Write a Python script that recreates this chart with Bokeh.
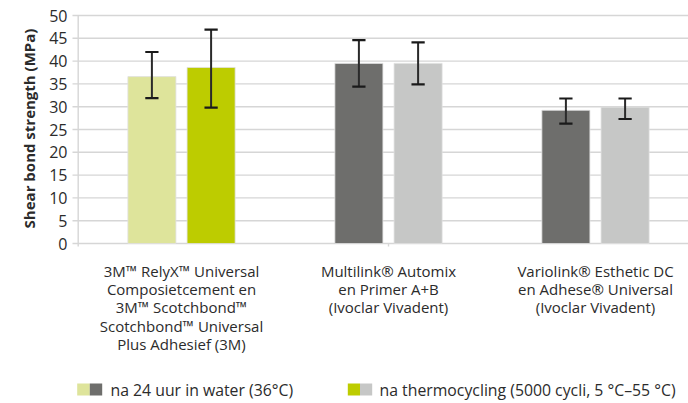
import math
from bokeh.plotting import figure
from bokeh.models import ColumnDataSource, Range1d
from bokeh.core.properties import value
from bokeh.embed import file_html
from bokeh.resources import INLINE

# ---- data ----
categories = [
    "3M\u2122 RelyX\u2122 Universal\nComposietcement en\n3M\u2122 Scotchbond\u2122\nScotchbond\u2122 Universal\nPlus Adhesief (3M)",
    "Multilink\u00ae Automix\nen Primer A+B\n(Ivoclar Vivadent)",
    "Variolink\u00ae Esthetic DC\nen Adhese\u00ae Universal\n(Ivoclar Vivadent)",
]
water = [36.6, 39.5, 29.2]
water_lo = [31.9, 34.4, 26.3]
water_hi = [42.0, 44.6, 31.8]
thermo = [38.6, 39.5, 29.9]
thermo_lo = [29.8, 34.9, 27.3]
thermo_hi = [46.9, 44.1, 31.8]
water_colors = ["#dee49b", "#6e6e6c", "#6e6e6c"]
thermo_colors = ["#bdcc00", "#c6c7c6", "#c6c7c6"]
legend_labels = ["na 24 uur in water (36\u00b0C)",
                 "na thermocycling (5000 cycli, 5 \u00b0C\u201355 \u00b0C)"]
y_ticks = [0, 5, 10, 15, 20, 25, 30, 35, 40, 45, 50]
y_label = "Shear bond strength (MPa)"

# ---- layout helpers (page pixels -> data units) ----
FONT = "Open Sans"
TXT = "#2b2b2b"
GRID = "#d6d6d6"
UNIT_X = 207.0           # px per category
ORIG_X = 77.5            # page x of category origin
ORIG_Y = 243.0           # page y of value 0
UNIT_Y = 228.0 / 50.0    # px per MPa

def px(x):
    return (x - ORIG_X) / UNIT_X

def py(y):
    return (ORIG_Y - y) / UNIT_Y

W, H = 688, 403
p = figure(width=W, height=H, output_backend="svg", toolbar_location=None,
           x_range=Range1d(px(0), px(W)), y_range=Range1d(py(H), py(0)),
           x_axis_location=None, y_axis_location=None,
           min_border_left=0, min_border_right=0, min_border_top=0, min_border_bottom=0)
p.outline_line_color = None
p.background_fill_color = "white"
p.xgrid.visible = False
p.ygrid.visible = False

# gridlines (with tick stubs to the left of the axis)
p.segment(x0=[px(72)] * len(y_ticks), x1=[px(W)] * len(y_ticks), y0=y_ticks, y1=y_ticks,
          line_color=GRID, line_width=1.4)
# vertical axis line and small category tick
p.segment(x0=[px(77.7), px(388)], x1=[px(77.7), px(388)], y0=[py(246), 0], y1=[y_ticks[-1], py(246)],
          line_color=GRID, line_width=1.4)
# tick labels
p.text(x=[px(67)] * len(y_ticks), y=y_ticks, text=[str(t) for t in y_ticks],
       text_align="right", text_baseline="middle", text_font=value(FONT),
       text_font_size="16px", text_color=TXT)
# axis title
p.text(x=[px(28)], y=[py(128)], text=[y_label], angle=math.pi / 2,
       text_align="center", text_baseline="middle", text_font=value(FONT),
       text_font_style="bold", text_font_size="15px", text_color=TXT)

# bars and error bars
xc = [i + 0.5 for i in range(len(categories))]
off = 0.143
bw = 0.232
cap = 0.032
src_w = ColumnDataSource(dict(x=[c - off for c in xc], top=water, lo=water_lo, hi=water_hi, color=water_colors))
src_t = ColumnDataSource(dict(x=[c + off for c in xc], top=thermo, lo=thermo_lo, hi=thermo_hi, color=thermo_colors))
for src in (src_w, src_t):
    p.vbar(x="x", top="top", bottom=0, width=bw, source=src, fill_color="color",
           line_color="#e0e0e0", line_width=0.8)
    p.segment(x0="x", x1="x", y0="lo", y1="hi", source=src, line_color="#2a2a2a", line_width=2)
for xs, los, his in ((src_w.data["x"], water_lo, water_hi), (src_t.data["x"], thermo_lo, thermo_hi)):
    p.segment(x0=[x - cap for x in xs], x1=[x + cap for x in xs], y0=his, y1=his,
              line_color="#1a1a1a", line_width=2.2)
    p.segment(x0=[x - cap for x in xs], x1=[x + cap for x in xs], y0=los, y1=los,
              line_color="#1a1a1a", line_width=2.2)

# category labels
lx, ly, lt = [], [], []
for i, cat in enumerate(categories):
    for j, line in enumerate(cat.split("\n")):
        lx.append(xc[i])
        ly.append(py(270.5 + j * 18.2))
        lt.append(line)
p.text(x=lx, y=ly, text=lt, text_align="center", text_baseline="middle",
       text_font=value(FONT), text_font_size="15px", text_color=TXT)

# legend (two swatches per entry: green variant + grey variant)
sw_left = [px(76.7), px(89.3), px(347.3), px(359.5)]
sw_right = [px(89.3), px(101.7), px(359.5), px(371.7)]
sw_col = [water_colors[0], water_colors[1], thermo_colors[0], thermo_colors[1]]
p.quad(left=sw_left, right=sw_right, top=[py(383)] * 4, bottom=[py(395)] * 4,
       fill_color=sw_col, line_color=None)
p.text(x=[px(110), px(379)], y=[py(389)] * 2, text=legend_labels, text_align="left",
       text_baseline="middle", text_font=value(FONT), text_font_size="15.8px", text_color=TXT)

open("out.html", "w").write(file_html(p, INLINE))
